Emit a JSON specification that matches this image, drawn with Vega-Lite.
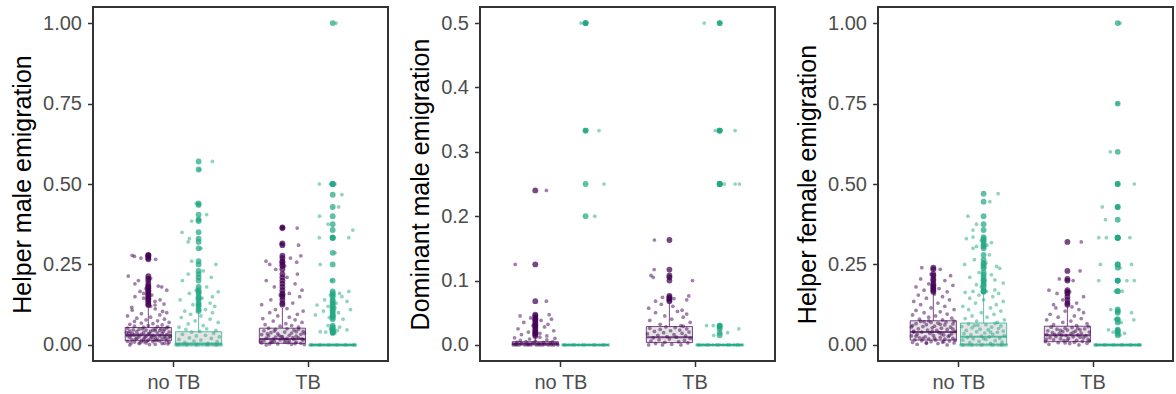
{
  "$schema": "https://vega.github.io/schema/vega-lite/v6.json",
  "padding": {"left": 9, "top": 6, "right": 0, "bottom": 0},
  "background": "white",
  "config": {
    "font": "Liberation Sans",
    "view": {"stroke": "#333333", "strokeWidth": 2},
    "axis": {"grid": false, "domain": false, "tickColor": "#333333", "tickWidth": 1.5, "tickSize": 5.5, "labelFontSize": 20, "labelColor": "#4D4D4D", "labelPadding": 6, "titleFontSize": 25, "titleFontWeight": "normal", "titleColor": "#000000", "titlePadding": 7}
  },
  "datasets": {
    "stats": [
      {"k": "1|0|a", "p": 1, "t": 0, "g": "a", "q1": 0.013, "med": 0.03, "q3": 0.054, "lo": 0, "hi": 0.12},
      {"k": "1|0|b", "p": 1, "t": 0, "g": "b", "q1": 0, "med": 0.004, "q3": 0.041, "lo": 0, "hi": 0.1},
      {"k": "1|1|a", "p": 1, "t": 1, "g": "a", "q1": 0.005, "med": 0.018, "q3": 0.052, "lo": 0, "hi": 0.115},
      {"k": "1|1|b", "p": 1, "t": 1, "g": "b", "q1": 0, "med": 0, "q3": 0, "lo": 0, "hi": 0},
      {"k": "2|0|a", "p": 2, "t": 0, "g": "a", "q1": 0, "med": 0.002, "q3": 0.005, "lo": 0, "hi": 0.012},
      {"k": "2|0|b", "p": 2, "t": 0, "g": "b", "q1": 0, "med": 0, "q3": 0, "lo": 0, "hi": 0},
      {"k": "2|1|a", "p": 2, "t": 1, "g": "a", "q1": 0.0036, "med": 0.012, "q3": 0.0285, "lo": 0, "hi": 0.065},
      {"k": "2|1|b", "p": 2, "t": 1, "g": "b", "q1": 0, "med": 0, "q3": 0, "lo": 0, "hi": 0},
      {"k": "3|0|a", "p": 3, "t": 0, "g": "a", "q1": 0.015, "med": 0.04, "q3": 0.075, "lo": 0, "hi": 0.16},
      {"k": "3|0|b", "p": 3, "t": 0, "g": "b", "q1": 0, "med": 0.025, "q3": 0.068, "lo": 0, "hi": 0.165},
      {"k": "3|1|a", "p": 3, "t": 1, "g": "a", "q1": 0.01, "med": 0.03, "q3": 0.058, "lo": 0, "hi": 0.12},
      {"k": "3|1|b", "p": 3, "t": 1, "g": "b", "q1": 0, "med": 0, "q3": 0, "lo": 0, "hi": 0}
    ]
  },
  "data": {
    "values": "p,t,g,v,j\n1,0,a,0,-0.8\n1,0,a,0.002,0.3\n1,0,a,0.004,-0.4\n1,0,a,0.005,0.7\n1,0,a,0.006,-0.1\n1,0,a,0.008,0.9\n1,0,a,0.009,-0.6\n1,0,a,0.01,0.2\n1,0,a,0.011,-0.9\n1,0,a,0.012,0.5\n1,0,a,0.013,-0.3\n1,0,a,0.014,0.8\n1,0,a,0.015,0\n1,0,a,0.016,-0.7\n1,0,a,0.017,0.4\n1,0,a,0.018,-0.2\n1,0,a,0.019,0.6\n1,0,a,0.02,-0.5\n1,0,a,0.021,0.1\n1,0,a,0.022,0.9\n1,0,a,0.023,-0.8\n1,0,a,0.024,0.3\n1,0,a,0.025,-0.4\n1,0,a,0.026,0.7\n1,0,a,0.027,-0.1\n1,0,a,0.028,0.5\n1,0,a,0.029,-0.9\n1,0,a,0.03,0.2\n1,0,a,0.031,-0.6\n1,0,a,0.032,0.8\n1,0,a,0.033,-0.3\n1,0,a,0.034,0\n1,0,a,0.035,0.6\n1,0,a,0.036,-0.7\n1,0,a,0.037,0.4\n1,0,a,0.038,-0.2\n1,0,a,0.04,0.9\n1,0,a,0.041,-0.5\n1,0,a,0.042,0.1\n1,0,a,0.043,-0.8\n1,0,a,0.045,0.5\n1,0,a,0.046,-0.1\n1,0,a,0.048,0.7\n1,0,a,0.049,-0.4\n1,0,a,0.05,0.3\n1,0,a,0.052,-0.9\n1,0,a,0.053,0.8\n1,0,a,0.055,-0.2\n1,0,a,0.057,0.4\n1,0,a,0.058,-0.6\n1,0,a,0.06,0\n1,0,a,0.003,0.85\n1,0,a,0.007,-0.35\n1,0,a,0.012,-0.05\n1,0,a,0.016,0.25\n1,0,a,0.02,0.75\n1,0,a,0.025,0.15\n1,0,a,0.03,-0.75\n1,0,a,0.035,0.05\n1,0,a,0.044,0.3\n1,0,a,0.047,-0.65\n1,0,a,0.039,-0.95\n1,0,a,0.051,0.55\n1,0,a,0.001,0.05\n1,0,a,0.004,0.6\n1,0,a,0.006,-0.75\n1,0,a,0.01,-0.2\n1,0,a,0.014,0.35\n1,0,a,0.018,-0.55\n1,0,a,0.022,-0.15\n1,0,a,0.027,0.95\n1,0,a,0.032,-0.45\n1,0,a,0.037,-0.85\n1,0,a,0.042,0.65\n1,0,a,0.046,0.2\n1,0,a,0.05,-0.25\n1,0,a,0.056,0.85\n1,0,a,0.062,0.6\n1,0,a,0.064,-0.8\n1,0,a,0.066,0.2\n1,0,a,0.068,-0.3\n1,0,a,0.07,0.9\n1,0,a,0.073,-0.6\n1,0,a,0.075,0.4\n1,0,a,0.078,-0.1\n1,0,a,0.08,0.7\n1,0,a,0.083,-0.5\n1,0,a,0.086,0.1\n1,0,a,0.09,-0.9\n1,0,a,0.093,0.5\n1,0,a,0.097,-0.3\n1,0,a,0.1,0.8\n1,0,a,0.104,0.62\n1,0,a,0.108,-0.7\n1,0,a,0.112,0.3\n1,0,a,0.117,-0.72\n1,0,a,0.12,0.1\n1,0,a,0.124,0.29\n1,0,a,0.127,0.68\n1,0,a,0.135,0.29\n1,0,a,0.14,0.51\n1,0,a,0.145,-0.2\n1,0,a,0.15,-0.58\n1,0,a,0.155,0.15\n1,0,a,0.16,-0.2\n1,0,a,0.166,-0.36\n1,0,a,0.17,0.8\n1,0,a,0.175,-0.1\n1,0,a,0.18,0.58\n1,0,a,0.183,0.43\n1,0,a,0.19,-0.58\n1,0,a,0.2,-0.43\n1,0,a,0.207,0.1\n1,0,a,0.214,-0.87\n1,0,a,0.266,0.32\n1,0,a,0.27,-0.32\n1,0,a,0.275,-0.6\n1,0,a,0.278,-0.7\n1,0,a,0.28,0.05\n1,0,b,0,-0.98\n1,0,b,0,-0.85\n1,0,b,0,-0.72\n1,0,b,0,-0.6\n1,0,b,0,-0.45\n1,0,b,0,-0.3\n1,0,b,0,-0.15\n1,0,b,0,0\n1,0,b,0,0.15\n1,0,b,0,0.3\n1,0,b,0,0.45\n1,0,b,0,0.6\n1,0,b,0,0.72\n1,0,b,0,0.85\n1,0,b,0,0.98\n1,0,b,0,-0.9\n1,0,b,0,-0.52\n1,0,b,0,-0.08\n1,0,b,0,0.38\n1,0,b,0,0.78\n1,0,b,0.005,0.4\n1,0,b,0.008,-0.6\n1,0,b,0.01,0.8\n1,0,b,0.012,-0.2\n1,0,b,0.015,0.1\n1,0,b,0.017,-0.85\n1,0,b,0.02,0.55\n1,0,b,0.022,-0.4\n1,0,b,0.025,0.9\n1,0,b,0.028,-0.1\n1,0,b,0.03,0.3\n1,0,b,0.033,-0.7\n1,0,b,0.036,0.65\n1,0,b,0.04,-0.3\n1,0,b,0.042,0.05\n1,0,b,0.045,0.75\n1,0,b,0.048,-0.55\n1,0,b,0.05,0.35\n1,0,b,0.055,-0.85\n1,0,b,0.06,0.2\n1,0,b,0.065,-0.45\n1,0,b,0.07,0.85\n1,0,b,0.075,-0.15\n1,0,b,0.08,0.5\n1,0,b,0.085,-0.75\n1,0,b,0.09,0.1\n1,0,b,0.095,-0.35\n1,0,b,0.1,0.6\n1,0,b,0.105,-0.6\n1,0,b,0.11,0.3\n1,0,b,0.12,0.7\n1,0,b,0.125,-0.25\n1,0,b,0.13,0.5\n1,0,b,0.14,-0.8\n1,0,b,0.145,0.15\n1,0,b,0.15,0.6\n1,0,b,0.16,-0.4\n1,0,b,0.165,0.85\n1,0,b,0.17,-0.1\n1,0,b,0.18,0.35\n1,0,b,0.2,-0.7\n1,0,b,0.21,0.55\n1,0,b,0.22,-0.45\n1,0,b,0.23,0.2\n1,0,b,0.25,0.75\n1,0,b,0.26,-0.3\n1,0,b,0.3,0.1\n1,0,b,0.32,-0.45\n1,0,b,0.33,-0.4\n1,0,b,0.35,-0.72\n1,0,b,0.385,-0.3\n1,0,b,0.39,0\n1,0,b,0.405,0.35\n1,0,b,0.435,0\n1,0,b,0.44,-0.1\n1,0,b,0.545,0.05\n1,0,b,0.57,0.6\n1,1,a,0,-0.7\n1,1,a,0.002,0.4\n1,1,a,0.003,-0.2\n1,1,a,0.005,0.8\n1,1,a,0.006,-0.9\n1,1,a,0.008,0.1\n1,1,a,0.009,0.6\n1,1,a,0.01,-0.5\n1,1,a,0.012,0.3\n1,1,a,0.013,-0.8\n1,1,a,0.015,0.9\n1,1,a,0.016,-0.1\n1,1,a,0.017,0.5\n1,1,a,0.018,-0.4\n1,1,a,0.02,0.2\n1,1,a,0.021,-0.7\n1,1,a,0.022,0.7\n1,1,a,0.024,-0.3\n1,1,a,0.025,0\n1,1,a,0.027,0.6\n1,1,a,0.028,-0.6\n1,1,a,0.03,0.3\n1,1,a,0.032,-0.9\n1,1,a,0.033,0.8\n1,1,a,0.035,-0.2\n1,1,a,0.037,0.4\n1,1,a,0.038,-0.5\n1,1,a,0.04,0.1\n1,1,a,0.042,0.9\n1,1,a,0.044,-0.8\n1,1,a,0.046,0.5\n1,1,a,0.048,-0.3\n1,1,a,0.05,0.2\n1,1,a,0.052,-0.6\n1,1,a,0.004,0.55\n1,1,a,0.011,-0.35\n1,1,a,0.019,0.85\n1,1,a,0.026,-0.05\n1,1,a,0.034,-0.65\n1,1,a,0.041,0.6\n1,1,a,0.008,-0.45\n1,1,a,0.015,0.15\n1,1,a,0.001,0.95\n1,1,a,0.003,-0.55\n1,1,a,0.007,0.25\n1,1,a,0.012,-0.95\n1,1,a,0.018,0.05\n1,1,a,0.023,0.45\n1,1,a,0.029,-0.15\n1,1,a,0.036,0.95\n1,1,a,0.043,-0.35\n1,1,a,0.049,0.7\n1,1,a,0.055,0.7\n1,1,a,0.058,-0.1\n1,1,a,0.06,0.4\n1,1,a,0.063,-0.75\n1,1,a,0.066,0.15\n1,1,a,0.07,0.85\n1,1,a,0.074,-0.4\n1,1,a,0.078,0.55\n1,1,a,0.082,-0.85\n1,1,a,0.086,0.3\n1,1,a,0.09,-0.2\n1,1,a,0.095,0.65\n1,1,a,0.1,-0.55\n1,1,a,0.105,0.9\n1,1,a,0.11,-0.3\n1,1,a,0.113,0.2\n1,1,a,0.125,-0.9\n1,1,a,0.13,0.45\n1,1,a,0.14,-0.5\n1,1,a,0.15,0.75\n1,1,a,0.155,-0.1\n1,1,a,0.16,0.3\n1,1,a,0.17,0.85\n1,1,a,0.18,-0.35\n1,1,a,0.19,0.55\n1,1,a,0.2,-0.7\n1,1,a,0.21,0.2\n1,1,a,0.22,0.65\n1,1,a,0.235,-0.29\n1,1,a,0.245,0.1\n1,1,a,0.25,-0.55\n1,1,a,0.257,0.62\n1,1,a,0.26,-0.71\n1,1,a,0.27,0.35\n1,1,a,0.277,0.8\n1,1,a,0.31,0.7\n1,1,a,0.315,-0.05\n1,1,a,0.363,0.64\n1,1,a,0.365,0\n1,1,b,0,-0.98\n1,1,b,0,-0.87\n1,1,b,0,-0.75\n1,1,b,0,-0.62\n1,1,b,0,-0.5\n1,1,b,0,-0.38\n1,1,b,0,-0.25\n1,1,b,0,-0.12\n1,1,b,0,0\n1,1,b,0,0.12\n1,1,b,0,0.25\n1,1,b,0,0.38\n1,1,b,0,0.5\n1,1,b,0,0.62\n1,1,b,0,0.75\n1,1,b,0,0.87\n1,1,b,0,0.98\n1,1,b,0,-0.93\n1,1,b,0,-0.56\n1,1,b,0,-0.18\n1,1,b,0,0.18\n1,1,b,0,0.56\n1,1,b,0,0.93\n1,1,b,0.037,0.1\n1,1,b,0.04,-0.3\n1,1,b,0.041,-0.54\n1,1,b,0.045,0.2\n1,1,b,0.047,0.62\n1,1,b,0.05,-0.1\n1,1,b,0.055,0.3\n1,1,b,0.06,-0.2\n1,1,b,0.08,0.45\n1,1,b,0.085,-0.15\n1,1,b,0.09,0.05\n1,1,b,0.093,-0.75\n1,1,b,0.1,0.25\n1,1,b,0.105,-0.4\n1,1,b,0.11,0.77\n1,1,b,0.115,0.1\n1,1,b,0.12,-0.2\n1,1,b,0.124,-0.68\n1,1,b,0.13,0.15\n1,1,b,0.135,0.62\n1,1,b,0.14,-0.35\n1,1,b,0.15,0.4\n1,1,b,0.155,-0.1\n1,1,b,0.16,0.3\n1,1,b,0.166,0.7\n1,1,b,0.2,-0.05\n1,1,b,0.25,-0.54\n1,1,b,0.286,0.1\n1,1,b,0.333,-0.58\n1,1,b,0.333,0.7\n1,1,b,0.333,0\n1,1,b,0.357,0.87\n1,1,b,0.375,-0.2\n1,1,b,0.4,-0.57\n1,1,b,0.4286,0.26\n1,1,b,0.4667,0.4\n1,1,b,0.5,-0.58\n1,1,b,0.5,0.1\n1,1,b,0.5,-0.1\n1,1,b,1,0.15\n2,0,a,0,-0.95\n2,0,a,0,-0.7\n2,0,a,0,-0.45\n2,0,a,0,-0.2\n2,0,a,0,0.05\n2,0,a,0,0.3\n2,0,a,0,0.55\n2,0,a,0,0.8\n2,0,a,0,0.98\n2,0,a,0,-0.82\n2,0,a,0,-0.33\n2,0,a,0,0.18\n2,0,a,0,0.68\n2,0,a,0.001,-0.85\n2,0,a,0.001,-0.3\n2,0,a,0.001,0.4\n2,0,a,0.002,-0.6\n2,0,a,0.002,0.15\n2,0,a,0.002,0.9\n2,0,a,0.003,-0.1\n2,0,a,0.003,0.65\n2,0,a,0.004,-0.8\n2,0,a,0.004,0.35\n2,0,a,0.005,-0.4\n2,0,a,0.005,0.75\n2,0,a,0.006,0\n2,0,a,0.007,-0.65\n2,0,a,0.008,0.5\n2,0,a,0.009,-0.25\n2,0,a,0.01,0.85\n2,0,a,0.011,-0.9\n2,0,a,0.012,0.2\n2,0,a,0.014,0.5\n2,0,a,0.016,-0.6\n2,0,a,0.018,0.2\n2,0,a,0.02,-0.3\n2,0,a,0.022,0.8\n2,0,a,0.025,-0.75\n2,0,a,0.028,0.4\n2,0,a,0.03,-0.1\n2,0,a,0.032,0.55\n2,0,a,0.035,-0.5\n2,0,a,0.038,0.25\n2,0,a,0.04,0.7\n2,0,a,0.042,-0.2\n2,0,a,0.045,-0.66\n2,0,a,0.047,0.6\n2,0,a,0.068,0.48\n2,0,a,0.125,-0.87\n2,0,a,0.24,0.48\n2,0,b,0,-0.98\n2,0,b,0,-0.85\n2,0,b,0,-0.72\n2,0,b,0,-0.6\n2,0,b,0,-0.45\n2,0,b,0,-0.3\n2,0,b,0,-0.15\n2,0,b,0,0\n2,0,b,0,0.15\n2,0,b,0,0.3\n2,0,b,0,0.45\n2,0,b,0,0.6\n2,0,b,0,0.72\n2,0,b,0,0.85\n2,0,b,0,0.98\n2,0,b,0,-0.9\n2,0,b,0,-0.52\n2,0,b,0,-0.08\n2,0,b,0,0.38\n2,0,b,0,0.78\n2,0,b,0.2,0.4\n2,0,b,0.25,0.8\n2,0,b,0.333,0.58\n2,0,b,0.333,0\n2,0,b,0.5,-0.2\n2,0,b,0.5,-0.05\n2,0,b,0.5,0.02\n2,1,a,0,-0.9\n2,1,a,0,-0.3\n2,1,a,0,0.5\n2,1,a,0.001,0.1\n2,1,a,0.002,-0.6\n2,1,a,0.003,0.8\n2,1,a,0.004,-0.2\n2,1,a,0.005,0.4\n2,1,a,0.006,-0.8\n2,1,a,0.007,0.65\n2,1,a,0.008,-0.45\n2,1,a,0.009,0\n2,1,a,0.01,0.9\n2,1,a,0.011,-0.7\n2,1,a,0.012,0.3\n2,1,a,0.013,-0.1\n2,1,a,0.014,0.7\n2,1,a,0.015,-0.5\n2,1,a,0.016,0.2\n2,1,a,0.017,-0.95\n2,1,a,0.018,0.55\n2,1,a,0.019,-0.25\n2,1,a,0.02,0.85\n2,1,a,0.021,-0.65\n2,1,a,0.022,0.05\n2,1,a,0.023,0.45\n2,1,a,0.024,-0.4\n2,1,a,0.025,0.75\n2,1,a,0.026,-0.85\n2,1,a,0.027,0.25\n2,1,a,0.028,-0.15\n2,1,a,0.029,0.6\n2,1,a,0.03,0.5\n2,1,a,0.032,-0.4\n2,1,a,0.035,0.9\n2,1,a,0.038,-0.85\n2,1,a,0.04,0.1\n2,1,a,0.043,0.6\n2,1,a,0.045,-0.2\n2,1,a,0.048,0.75\n2,1,a,0.05,-0.6\n2,1,a,0.052,0.35\n2,1,a,0.054,0.55\n2,1,a,0.057,-0.9\n2,1,a,0.06,0.15\n2,1,a,0.063,-0.35\n2,1,a,0.068,-0.6\n2,1,a,0.07,0.75\n2,1,a,0.072,0.2\n2,1,a,0.074,-0.3\n2,1,a,0.076,0.84\n2,1,a,0.1,1\n2,1,a,0.105,-0.7\n2,1,a,0.108,-0.8\n2,1,a,0.117,-0.66\n2,1,a,0.163,-0.65\n2,1,b,0,-0.98\n2,1,b,0,-0.85\n2,1,b,0,-0.72\n2,1,b,0,-0.6\n2,1,b,0,-0.45\n2,1,b,0,-0.3\n2,1,b,0,-0.15\n2,1,b,0,0\n2,1,b,0,0.15\n2,1,b,0,0.3\n2,1,b,0,0.45\n2,1,b,0,0.6\n2,1,b,0,0.72\n2,1,b,0,0.85\n2,1,b,0,0.98\n2,1,b,0,-0.9\n2,1,b,0,-0.52\n2,1,b,0,-0.08\n2,1,b,0,0.38\n2,1,b,0,0.78\n2,1,b,0.015,-0.26\n2,1,b,0.019,0.34\n2,1,b,0.025,0.83\n2,1,b,0.028,-0.05\n2,1,b,0.03,-0.57\n2,1,b,0.03,-0.28\n2,1,b,0.25,0.2\n2,1,b,0.25,0.67\n2,1,b,0.25,0.86\n2,1,b,0.25,0\n2,1,b,0.333,-0.19\n2,1,b,0.333,0.67\n2,1,b,0.333,0\n2,1,b,0.5,-0.67\n2,1,b,0.5,0\n3,0,a,0,0.6\n3,0,a,0.002,-0.7\n3,0,a,0.004,0.2\n3,0,a,0.005,-0.3\n3,0,a,0.006,0.9\n3,0,a,0.008,-0.9\n3,0,a,0.009,0.4\n3,0,a,0.01,-0.1\n3,0,a,0.012,0.7\n3,0,a,0.013,-0.5\n3,0,a,0.015,0.1\n3,0,a,0.016,-0.8\n3,0,a,0.018,0.5\n3,0,a,0.019,-0.2\n3,0,a,0.02,0.85\n3,0,a,0.022,-0.6\n3,0,a,0.023,0.3\n3,0,a,0.025,-0.35\n3,0,a,0.026,0.65\n3,0,a,0.028,-0.95\n3,0,a,0.03,0\n3,0,a,0.031,0.45\n3,0,a,0.033,-0.7\n3,0,a,0.035,0.8\n3,0,a,0.036,-0.15\n3,0,a,0.038,0.25\n3,0,a,0.04,-0.5\n3,0,a,0.041,0.95\n3,0,a,0.043,-0.85\n3,0,a,0.045,0.15\n3,0,a,0.046,-0.25\n3,0,a,0.048,0.6\n3,0,a,0.05,-0.65\n3,0,a,0.052,0.35\n3,0,a,0.053,-0.05\n3,0,a,0.055,0.75\n3,0,a,0.057,-0.45\n3,0,a,0.058,0.05\n3,0,a,0.06,-0.9\n3,0,a,0.062,0.5\n3,0,a,0.063,-0.3\n3,0,a,0.065,0.85\n3,0,a,0.066,-0.75\n3,0,a,0.068,0.2\n3,0,a,0.07,-0.1\n3,0,a,0.071,0.55\n3,0,a,0.073,-0.55\n3,0,a,0.074,0.9\n3,0,a,0.075,-0.2\n3,0,a,0.01,0.45\n3,0,a,0.02,-0.45\n3,0,a,0.03,0.7\n3,0,a,0.04,-0.85\n3,0,a,0.007,-0.3\n3,0,a,0.014,0.95\n3,0,a,0.021,0.05\n3,0,a,0.027,-0.75\n3,0,a,0.034,0.35\n3,0,a,0.042,-0.05\n3,0,a,0.049,0.85\n3,0,a,0.056,-0.95\n3,0,a,0.064,0.3\n3,0,a,0.072,-0.4\n3,0,a,0.078,0.4\n3,0,a,0.08,-0.6\n3,0,a,0.083,0.8\n3,0,a,0.086,-0.2\n3,0,a,0.09,0.1\n3,0,a,0.093,-0.9\n3,0,a,0.096,0.6\n3,0,a,0.1,-0.4\n3,0,a,0.103,0.3\n3,0,a,0.107,-0.75\n3,0,a,0.11,0.9\n3,0,a,0.115,-0.1\n3,0,a,0.12,0.5\n3,0,a,0.125,-0.55\n3,0,a,0.13,0.2\n3,0,a,0.135,-0.85\n3,0,a,0.14,0.7\n3,0,a,0.145,-0.3\n3,0,a,0.15,0.4\n3,0,a,0.155,-0.65\n3,0,a,0.158,0.05\n3,0,a,0.165,0.6\n3,0,a,0.17,-0.4\n3,0,a,0.175,0.25\n3,0,a,0.18,-0.75\n3,0,a,0.185,0.85\n3,0,a,0.19,-0.2\n3,0,a,0.2,0.5\n3,0,a,0.205,-0.55\n3,0,a,0.215,0.75\n3,0,a,0.22,-0.1\n3,0,a,0.235,0.3\n3,0,a,0.24,-0.5\n3,0,b,0,-0.98\n3,0,b,0,-0.85\n3,0,b,0,-0.72\n3,0,b,0,-0.6\n3,0,b,0,-0.45\n3,0,b,0,-0.3\n3,0,b,0,-0.15\n3,0,b,0,0\n3,0,b,0,0.15\n3,0,b,0,0.3\n3,0,b,0,0.45\n3,0,b,0,0.6\n3,0,b,0,0.72\n3,0,b,0,0.85\n3,0,b,0,0.98\n3,0,b,0,-0.9\n3,0,b,0,-0.52\n3,0,b,0,-0.08\n3,0,b,0,0.38\n3,0,b,0,0.78\n3,0,b,0.005,0.3\n3,0,b,0.007,-0.6\n3,0,b,0.009,0.8\n3,0,b,0.011,-0.2\n3,0,b,0.013,0.5\n3,0,b,0.015,-0.9\n3,0,b,0.017,0.1\n3,0,b,0.019,-0.45\n3,0,b,0.021,0.7\n3,0,b,0.023,-0.7\n3,0,b,0.025,0.25\n3,0,b,0.027,-0.1\n3,0,b,0.029,0.9\n3,0,b,0.031,-0.55\n3,0,b,0.033,0.4\n3,0,b,0.035,-0.85\n3,0,b,0.037,0.05\n3,0,b,0.039,0.6\n3,0,b,0.041,-0.3\n3,0,b,0.043,0.85\n3,0,b,0.045,-0.75\n3,0,b,0.047,0.2\n3,0,b,0.049,-0.15\n3,0,b,0.051,0.65\n3,0,b,0.053,-0.5\n3,0,b,0.055,0.35\n3,0,b,0.057,-0.95\n3,0,b,0.059,0.75\n3,0,b,0.061,-0.25\n3,0,b,0.063,0.1\n3,0,b,0.065,-0.65\n3,0,b,0.067,0.5\n3,0,b,0.02,0\n3,0,b,0.04,0.3\n3,0,b,0.06,-0.4\n3,0,b,0.07,0.6\n3,0,b,0.074,-0.3\n3,0,b,0.078,0.9\n3,0,b,0.082,-0.8\n3,0,b,0.086,0.15\n3,0,b,0.09,-0.5\n3,0,b,0.095,0.45\n3,0,b,0.1,-0.1\n3,0,b,0.105,0.75\n3,0,b,0.11,-0.65\n3,0,b,0.115,0.3\n3,0,b,0.12,-0.9\n3,0,b,0.125,0.55\n3,0,b,0.13,-0.35\n3,0,b,0.135,0.85\n3,0,b,0.14,0\n3,0,b,0.145,-0.6\n3,0,b,0.15,0.4\n3,0,b,0.155,-0.2\n3,0,b,0.16,0.65\n3,0,b,0.163,-0.8\n3,0,b,0.166,-0.46\n3,0,b,0.166,0.12\n3,0,b,0.171,0.49\n3,0,b,0.18,-0.1\n3,0,b,0.187,-0.31\n3,0,b,0.192,0.85\n3,0,b,0.2,0.05\n3,0,b,0.202,0.49\n3,0,b,0.21,-0.6\n3,0,b,0.218,0.34\n3,0,b,0.225,-0.2\n3,0,b,0.238,0.7\n3,0,b,0.244,0.56\n3,0,b,0.25,-0.82\n3,0,b,0.255,0.1\n3,0,b,0.265,-0.4\n3,0,b,0.28,0.25\n3,0,b,0.3,-0.46\n3,0,b,0.306,-0.31\n3,0,b,0.31,0.15\n3,0,b,0.318,0.34\n3,0,b,0.325,-0.1\n3,0,b,0.33,-0.75\n3,0,b,0.335,-0.46\n3,0,b,0.357,-0.46\n3,0,b,0.375,-0.31\n3,0,b,0.4,-0.68\n3,0,b,0.445,0.27\n3,0,b,0.47,0.63\n3,1,a,0,0.5\n3,1,a,0.002,-0.8\n3,1,a,0.004,0.1\n3,1,a,0.005,0.85\n3,1,a,0.007,-0.4\n3,1,a,0.008,0.3\n3,1,a,0.01,-0.95\n3,1,a,0.011,0.65\n3,1,a,0.013,-0.15\n3,1,a,0.014,0.4\n3,1,a,0.016,-0.6\n3,1,a,0.017,0.9\n3,1,a,0.019,-0.3\n3,1,a,0.02,0.05\n3,1,a,0.022,0.7\n3,1,a,0.023,-0.75\n3,1,a,0.025,0.25\n3,1,a,0.026,-0.5\n3,1,a,0.028,0.8\n3,1,a,0.029,-0.05\n3,1,a,0.031,0.45\n3,1,a,0.032,-0.9\n3,1,a,0.034,0.15\n3,1,a,0.035,-0.35\n3,1,a,0.037,0.6\n3,1,a,0.038,-0.65\n3,1,a,0.04,0.95\n3,1,a,0.041,-0.2\n3,1,a,0.043,0.35\n3,1,a,0.044,-0.85\n3,1,a,0.046,0\n3,1,a,0.047,0.55\n3,1,a,0.049,-0.45\n3,1,a,0.05,0.75\n3,1,a,0.052,-0.1\n3,1,a,0.054,0.2\n3,1,a,0.055,-0.7\n3,1,a,0.057,0.9\n3,1,a,0.015,0\n3,1,a,0.03,-0.25\n3,1,a,0.006,-0.1\n3,1,a,0.012,0.95\n3,1,a,0.018,-0.9\n3,1,a,0.024,0.55\n3,1,a,0.033,-0.55\n3,1,a,0.039,0.25\n3,1,a,0.045,-0.3\n3,1,a,0.051,0.45\n3,1,a,0.06,0.4\n3,1,a,0.063,-0.6\n3,1,a,0.066,0.85\n3,1,a,0.07,-0.2\n3,1,a,0.074,0.15\n3,1,a,0.078,-0.9\n3,1,a,0.082,0.6\n3,1,a,0.086,-0.4\n3,1,a,0.09,0.3\n3,1,a,0.095,-0.75\n3,1,a,0.1,0.7\n3,1,a,0.105,-0.1\n3,1,a,0.11,0.5\n3,1,a,0.115,-0.5\n3,1,a,0.118,0.2\n3,1,a,0.125,-0.6\n3,1,a,0.13,0.4\n3,1,a,0.14,-0.2\n3,1,a,0.15,0.7\n3,1,a,0.16,-0.45\n3,1,a,0.165,0.1\n3,1,a,0.17,-0.8\n3,1,a,0.2,0.25\n3,1,a,0.205,-0.35\n3,1,a,0.23,0.55\n3,1,a,0.32,0.6\n3,1,b,0,-0.98\n3,1,b,0,-0.87\n3,1,b,0,-0.75\n3,1,b,0,-0.62\n3,1,b,0,-0.5\n3,1,b,0,-0.38\n3,1,b,0,-0.25\n3,1,b,0,-0.12\n3,1,b,0,0\n3,1,b,0,0.12\n3,1,b,0,0.25\n3,1,b,0,0.38\n3,1,b,0,0.5\n3,1,b,0,0.62\n3,1,b,0,0.75\n3,1,b,0,0.87\n3,1,b,0,0.98\n3,1,b,0,-0.93\n3,1,b,0,-0.56\n3,1,b,0,-0.18\n3,1,b,0,0.18\n3,1,b,0,0.56\n3,1,b,0,0.93\n3,1,b,0.03,0.1\n3,1,b,0.036,0.3\n3,1,b,0.04,-0.2\n3,1,b,0.045,0\n3,1,b,0.047,-0.4\n3,1,b,0.07,0.15\n3,1,b,0.078,0.7\n3,1,b,0.08,-0.1\n3,1,b,0.1,0.6\n3,1,b,0.105,0.05\n3,1,b,0.11,-0.3\n3,1,b,0.167,-0.1\n3,1,b,0.167,0.2\n3,1,b,0.2,-0.82\n3,1,b,0.2,0.4\n3,1,b,0.2,0.72\n3,1,b,0.24,0.1\n3,1,b,0.25,-0.75\n3,1,b,0.25,0.6\n3,1,b,0.333,-0.82\n3,1,b,0.333,-0.49\n3,1,b,0.333,0.53\n3,1,b,0.333,0\n3,1,b,0.389,-0.53\n3,1,b,0.4286,-0.67\n3,1,b,0.4286,0\n3,1,b,0.5,0.72\n3,1,b,0.5,0\n3,1,b,0.6,-0.32\n3,1,b,0.75,0\n3,1,b,1,0.1",
    "format": {"type": "csv", "parse": {"p": "number", "t": "number", "g": "string", "v": "number", "j": "number"}}
  },
  "hconcat": [
    {
      "width": 295, "height": 354,
      "layer": [
        {
          "data": {"name": "stats"},
          "transform": [{"filter": "datum.p == 1"}, {"calculate": "1 + datum.t + (datum.g == 'b' ? 0.1875 : -0.1875)", "as": "xc"}, {"calculate": "datum.xc - 0.172", "as": "xl"}, {"calculate": "datum.xc + 0.172", "as": "xr"}],
          "layer": [
            {"mark": {"type": "rect", "fill": "#E4E4E4", "strokeWidth": 1, "strokeOpacity": 0.7},
             "encoding": {
               "x": {"field": "xl", "type": "quantitative", "scale": {"domain": [0.4, 2.6], "nice": false, "zero": false}, "axis": {"values": [1, 2], "labelExpr": "datum.value == 1 ? 'no TB' : 'TB'"}, "title": null},
               "x2": {"field": "xr"},
               "y": {"field": "q1", "type": "quantitative", "scale": {"domain": [-0.05, 1.05], "nice": false, "zero": false}, "axis": {"values": [0, 0.25, 0.5, 0.75, 1], "format": ".2f"}, "title": "Helper male emigration"},
               "y2": {"field": "q3"},
               "stroke": {"field": "g", "type": "nominal", "scale": {"domain": ["a", "b"], "range": ["#440154", "#22A884"]}, "legend": null}
             }},
            {"mark": {"type": "rule", "strokeWidth": 2, "opacity": 0.7},
             "encoding": {"x": {"field": "xl", "type": "quantitative", "title": null}, "x2": {"field": "xr"}, "y": {"field": "med", "type": "quantitative", "title": "Helper male emigration"}, "color": {"field": "g", "type": "nominal", "scale": {"domain": ["a", "b"], "range": ["#440154", "#22A884"]}, "legend": null}}},
            {"mark": {"type": "rule", "strokeWidth": 1, "opacity": 0.7},
             "encoding": {"x": {"field": "xc", "type": "quantitative", "title": null}, "y": {"field": "q3", "type": "quantitative", "title": "Helper male emigration"}, "y2": {"field": "hi"}, "color": {"field": "g", "type": "nominal", "legend": null}}}
          ]
        },
        {
          "transform": [{"filter": "datum.p == 1"}, {"calculate": "datum.p + '|' + datum.t + '|' + datum.g", "as": "k"}, {"lookup": "k", "from": {"data": {"name": "stats"}, "key": "k", "fields": ["hi", "lo"]}}, {"filter": "datum.v > datum.hi + 1e-9 || datum.v < datum.lo - 1e-9"}, {"calculate": "1 + datum.t + (datum.g == 'b' ? 0.1875 : -0.1875)", "as": "xc"}],
          "mark": {"type": "point", "filled": true, "size": 34, "opacity": 0.72, "strokeWidth": 0},
          "encoding": {"x": {"field": "xc", "type": "quantitative", "title": null}, "y": {"field": "v", "type": "quantitative", "title": "Helper male emigration"}, "color": {"field": "g", "type": "nominal", "legend": null}}
        },
        {
          "transform": [{"filter": "datum.p == 1"}, {"calculate": "1 + datum.t + (datum.g == 'b' ? 0.1875 : -0.1875) + datum.j * 0.172", "as": "xj"}],
          "mark": {"type": "point", "filled": true, "size": 14, "opacity": 0.5, "strokeWidth": 0},
          "encoding": {"x": {"field": "xj", "type": "quantitative", "title": null}, "y": {"field": "v", "type": "quantitative", "title": "Helper male emigration"}, "color": {"field": "g", "type": "nominal", "legend": null}}
        }
      ]
    },
    {
      "width": 295, "height": 354,
      "layer": [
        {
          "data": {"name": "stats"},
          "transform": [{"filter": "datum.p == 2"}, {"calculate": "1 + datum.t + (datum.g == 'b' ? 0.1875 : -0.1875)", "as": "xc"}, {"calculate": "datum.xc - 0.172", "as": "xl"}, {"calculate": "datum.xc + 0.172", "as": "xr"}],
          "layer": [
            {"mark": {"type": "rect", "fill": "#E4E4E4", "strokeWidth": 1, "strokeOpacity": 0.7},
             "encoding": {
               "x": {"field": "xl", "type": "quantitative", "scale": {"domain": [0.4, 2.6], "nice": false, "zero": false}, "axis": {"values": [1, 2], "labelExpr": "datum.value == 1 ? 'no TB' : 'TB'"}, "title": null},
               "x2": {"field": "xr"},
               "y": {"field": "q1", "type": "quantitative", "scale": {"domain": [-0.025, 0.525], "nice": false, "zero": false}, "axis": {"values": [0, 0.1, 0.2, 0.3, 0.4, 0.5], "format": ".1f"}, "title": "Dominant male emigration"},
               "y2": {"field": "q3"},
               "stroke": {"field": "g", "type": "nominal", "scale": {"domain": ["a", "b"], "range": ["#440154", "#22A884"]}, "legend": null}
             }},
            {"mark": {"type": "rule", "strokeWidth": 2, "opacity": 0.7},
             "encoding": {"x": {"field": "xl", "type": "quantitative", "title": null}, "x2": {"field": "xr"}, "y": {"field": "med", "type": "quantitative", "title": "Dominant male emigration"}, "color": {"field": "g", "type": "nominal", "scale": {"domain": ["a", "b"], "range": ["#440154", "#22A884"]}, "legend": null}}},
            {"mark": {"type": "rule", "strokeWidth": 1, "opacity": 0.7},
             "encoding": {"x": {"field": "xc", "type": "quantitative", "title": null}, "y": {"field": "q3", "type": "quantitative", "title": "Dominant male emigration"}, "y2": {"field": "hi"}, "color": {"field": "g", "type": "nominal", "legend": null}}}
          ]
        },
        {
          "transform": [{"filter": "datum.p == 2"}, {"calculate": "datum.p + '|' + datum.t + '|' + datum.g", "as": "k"}, {"lookup": "k", "from": {"data": {"name": "stats"}, "key": "k", "fields": ["hi", "lo"]}}, {"filter": "datum.v > datum.hi + 1e-9 || datum.v < datum.lo - 1e-9"}, {"calculate": "1 + datum.t + (datum.g == 'b' ? 0.1875 : -0.1875)", "as": "xc"}],
          "mark": {"type": "point", "filled": true, "size": 34, "opacity": 0.72, "strokeWidth": 0},
          "encoding": {"x": {"field": "xc", "type": "quantitative", "title": null}, "y": {"field": "v", "type": "quantitative", "title": "Dominant male emigration"}, "color": {"field": "g", "type": "nominal", "legend": null}}
        },
        {
          "transform": [{"filter": "datum.p == 2"}, {"calculate": "1 + datum.t + (datum.g == 'b' ? 0.1875 : -0.1875) + datum.j * 0.172", "as": "xj"}],
          "mark": {"type": "point", "filled": true, "size": 14, "opacity": 0.5, "strokeWidth": 0},
          "encoding": {"x": {"field": "xj", "type": "quantitative", "title": null}, "y": {"field": "v", "type": "quantitative", "title": "Dominant male emigration"}, "color": {"field": "g", "type": "nominal", "legend": null}}
        }
      ]
    },
    {
      "width": 295, "height": 354,
      "layer": [
        {
          "data": {"name": "stats"},
          "transform": [{"filter": "datum.p == 3"}, {"calculate": "1 + datum.t + (datum.g == 'b' ? 0.1875 : -0.1875)", "as": "xc"}, {"calculate": "datum.xc - 0.172", "as": "xl"}, {"calculate": "datum.xc + 0.172", "as": "xr"}],
          "layer": [
            {"mark": {"type": "rect", "fill": "#E4E4E4", "strokeWidth": 1, "strokeOpacity": 0.7},
             "encoding": {
               "x": {"field": "xl", "type": "quantitative", "scale": {"domain": [0.4, 2.6], "nice": false, "zero": false}, "axis": {"values": [1, 2], "labelExpr": "datum.value == 1 ? 'no TB' : 'TB'"}, "title": null},
               "x2": {"field": "xr"},
               "y": {"field": "q1", "type": "quantitative", "scale": {"domain": [-0.05, 1.05], "nice": false, "zero": false}, "axis": {"values": [0, 0.25, 0.5, 0.75, 1], "format": ".2f"}, "title": "Helper female emigration"},
               "y2": {"field": "q3"},
               "stroke": {"field": "g", "type": "nominal", "scale": {"domain": ["a", "b"], "range": ["#440154", "#22A884"]}, "legend": null}
             }},
            {"mark": {"type": "rule", "strokeWidth": 2, "opacity": 0.7},
             "encoding": {"x": {"field": "xl", "type": "quantitative", "title": null}, "x2": {"field": "xr"}, "y": {"field": "med", "type": "quantitative", "title": "Helper female emigration"}, "color": {"field": "g", "type": "nominal", "scale": {"domain": ["a", "b"], "range": ["#440154", "#22A884"]}, "legend": null}}},
            {"mark": {"type": "rule", "strokeWidth": 1, "opacity": 0.7},
             "encoding": {"x": {"field": "xc", "type": "quantitative", "title": null}, "y": {"field": "q3", "type": "quantitative", "title": "Helper female emigration"}, "y2": {"field": "hi"}, "color": {"field": "g", "type": "nominal", "legend": null}}}
          ]
        },
        {
          "transform": [{"filter": "datum.p == 3"}, {"calculate": "datum.p + '|' + datum.t + '|' + datum.g", "as": "k"}, {"lookup": "k", "from": {"data": {"name": "stats"}, "key": "k", "fields": ["hi", "lo"]}}, {"filter": "datum.v > datum.hi + 1e-9 || datum.v < datum.lo - 1e-9"}, {"calculate": "1 + datum.t + (datum.g == 'b' ? 0.1875 : -0.1875)", "as": "xc"}],
          "mark": {"type": "point", "filled": true, "size": 34, "opacity": 0.72, "strokeWidth": 0},
          "encoding": {"x": {"field": "xc", "type": "quantitative", "title": null}, "y": {"field": "v", "type": "quantitative", "title": "Helper female emigration"}, "color": {"field": "g", "type": "nominal", "legend": null}}
        },
        {
          "transform": [{"filter": "datum.p == 3"}, {"calculate": "1 + datum.t + (datum.g == 'b' ? 0.1875 : -0.1875) + datum.j * 0.172", "as": "xj"}],
          "mark": {"type": "point", "filled": true, "size": 14, "opacity": 0.5, "strokeWidth": 0},
          "encoding": {"x": {"field": "xj", "type": "quantitative", "title": null}, "y": {"field": "v", "type": "quantitative", "title": "Helper female emigration"}, "color": {"field": "g", "type": "nominal", "legend": null}}
        }
      ]
    }
  ],
  "spacing": 18
}
